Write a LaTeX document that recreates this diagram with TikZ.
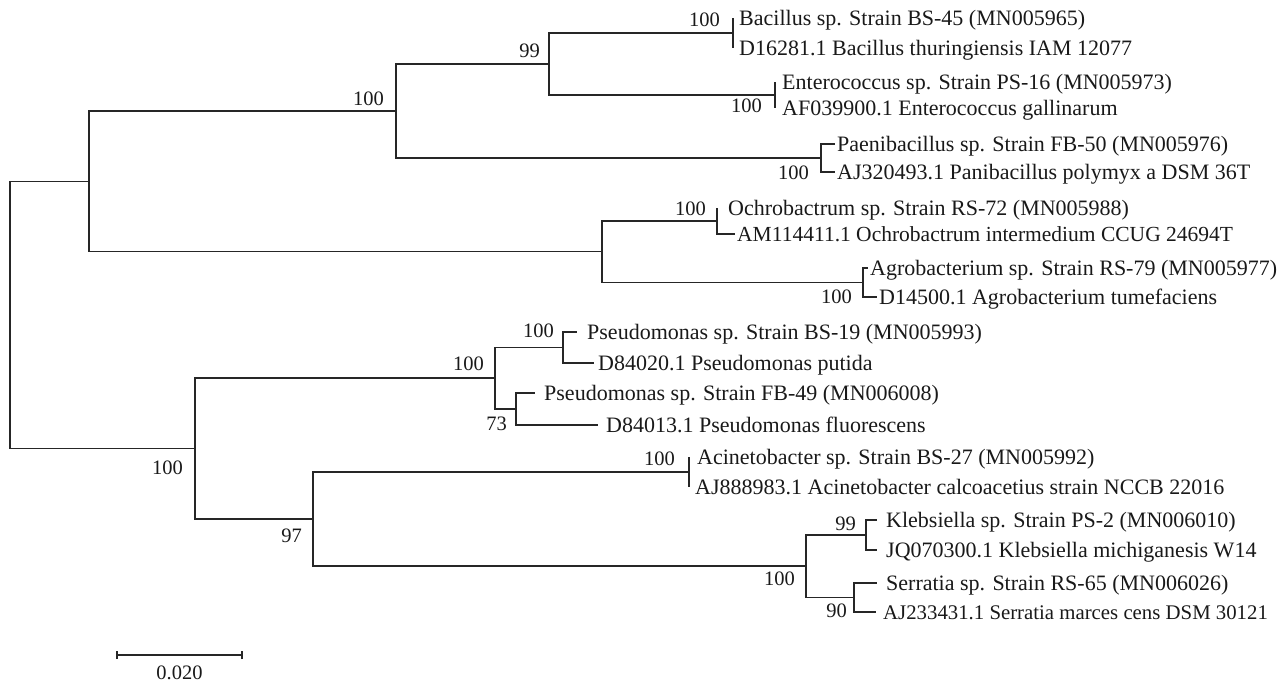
\documentclass[tikz,border=0pt]{standalone}
\usepackage{fontspec}
\setmainfont{Liberation Serif}
\begin{document}
\begin{tikzpicture}[x=1pt,y=-1pt,
  branch/.style={draw=black!85,line width=1.15pt},
  leaf/.style={anchor=base west,inner sep=0pt,text=black!90,font=\fontsize{22}{24}\selectfont},
  boot/.style={anchor=base east,inner sep=0pt,text=black!90,font=\fontsize{20.5}{24}\selectfont}]
\useasboundingbox (0,0) rectangle (1278,682);
% internal nodes
\coordinate (root) at (10,314.95);
\coordinate (A) at (89,181.4);
\coordinate (B) at (396,111);
\coordinate (C) at (549,64);
\coordinate (Bac) at (733,33);
\coordinate (Ent) at (775,95);
\coordinate (P) at (821,158);
\coordinate (D) at (602,251.75);
\coordinate (O) at (717,221);
\coordinate (Ag) at (863,282.5);
\coordinate (E) at (195,448.5);
\coordinate (F) at (495,378);
\coordinate (G) at (563,347.5);
\coordinate (H) at (516,409);
\coordinate (I) at (313,519);
\coordinate (Ac) at (689,472);
\coordinate (J) at (806,566);
\coordinate (K) at (866,535);
\coordinate (L) at (854,597.5);
% leaf ends
\coordinate (l1) at (733,18);
\coordinate (l2) at (733,48);
\coordinate (l3) at (775,82);
\coordinate (l4) at (775,108);
\coordinate (l5) at (835,144);
\coordinate (l6) at (835,172);
\coordinate (l7) at (717,208);
\coordinate (l8) at (735,234);
\coordinate (l9) at (868,268);
\coordinate (l10) at (877,297);
\coordinate (l11) at (577,332);
\coordinate (l12) at (594,363);
\coordinate (l13) at (535,393);
\coordinate (l14) at (598,425);
\coordinate (l15) at (689,457);
\coordinate (l16) at (689,487);
\coordinate (l17) at (877,520);
\coordinate (l18) at (877,550);
\coordinate (l19) at (877,583);
\coordinate (l20) at (876,612);
% branches
\draw[branch] (root) |- (A);
\draw[branch] (root) |- (E);
\draw[branch] (A) |- (B);
\draw[branch] (A) |- (D);
\draw[branch] (B) |- (C);
\draw[branch] (B) |- (P);
\draw[branch] (C) |- (Bac);
\draw[branch] (C) |- (Ent);
\draw[branch] (Bac) |- (l1);
\draw[branch] (Bac) |- (l2);
\draw[branch] (Ent) |- (l3);
\draw[branch] (Ent) |- (l4);
\draw[branch] (P) |- (l5);
\draw[branch] (P) |- (l6);
\draw[branch] (D) |- (O);
\draw[branch] (D) |- (Ag);
\draw[branch] (O) |- (l7);
\draw[branch] (O) |- (l8);
\draw[branch] (Ag) |- (l9);
\draw[branch] (Ag) |- (l10);
\draw[branch] (E) |- (F);
\draw[branch] (E) |- (I);
\draw[branch] (F) |- (G);
\draw[branch] (F) |- (H);
\draw[branch] (G) |- (l11);
\draw[branch] (G) |- (l12);
\draw[branch] (H) |- (l13);
\draw[branch] (H) |- (l14);
\draw[branch] (I) |- (Ac);
\draw[branch] (I) |- (J);
\draw[branch] (Ac) |- (l15);
\draw[branch] (Ac) |- (l16);
\draw[branch] (J) |- (K);
\draw[branch] (J) |- (L);
\draw[branch] (K) |- (l17);
\draw[branch] (K) |- (l18);
\draw[branch] (L) |- (l19);
\draw[branch] (L) |- (l20);
% leaf labels
\node[leaf] (t1) at (739,25.5) {Bacillus sp. Strain BS-45 (MN005965)};
\node[leaf] (t2) at (739,55.5) {D16281.1 Bacillus thuringiensis IAM 12077};
\node[leaf] (t3) at (782,89.5) {Enterococcus sp. Strain PS-16 (MN005973)};
\node[leaf] (t4) at (782,115.5) {AF039900.1 Enterococcus gallinarum};
\node[leaf] (t5) at (837,151.5) {Paenibacillus sp. Strain FB-50 (MN005976)};
\node[leaf] (t6) at (837,179.5) {AJ320493.1 Panibacillus polymyx a DSM 36T};
\node[leaf] (t7) at (728,215.5) {Ochrobactrum sp. Strain RS-72 (MN005988)};
\node[leaf,font=\fontsize{21.5}{24}\selectfont] (t8) at (737,241.5) {AM114411.1 Ochrobactrum intermedium CCUG 24694T};
\node[leaf] (t9) at (870,275.5) {Agrobacterium sp. Strain RS-79 (MN005977)};
\node[leaf] (t10) at (879,304.5) {D14500.1 Agrobacterium tumefaciens};
\node[leaf] (t11) at (587,339.5) {Pseudomonas sp. Strain BS-19 (MN005993)};
\node[leaf] (t12) at (598,370.5) {D84020.1 Pseudomonas putida};
\node[leaf] (t13) at (544,400.5) {Pseudomonas sp. Strain FB-49 (MN006008)};
\node[leaf] (t14) at (606,432.5) {D84013.1 Pseudomonas fluorescens};
\node[leaf] (t15) at (697,464.5) {Acinetobacter sp. Strain BS-27 (MN005992)};
\node[leaf] (t16) at (695,494.5) {AJ888983.1 Acinetobacter calcoacetius strain NCCB 22016};
\node[leaf] (t17) at (886,527.5) {Klebsiella sp. Strain PS-2 (MN006010)};
\node[leaf] (t18) at (886,557.5) {JQ070300.1 Klebsiella michiganesis W14};
\node[leaf] (t19) at (886,590.5) {Serratia sp. Strain RS-65 (MN006026)};
\node[leaf,font=\fontsize{20.8}{24}\selectfont] (t20) at (883,619.5) {AJ233431.1 Serratia marces cens DSM 30121};
% bootstrap values
\node[boot] (bB) at (384,106) {100};
\node[boot] (bC) at (540,58) {99};
\node[boot] (bBac) at (720,27) {100};
\node[boot] (bEnt) at (762,113) {100};
\node[boot] (bP) at (809,179) {100};
\node[boot] (bO) at (706,215) {100};
\node[boot] (bAg) at (852,303) {100};
\node[boot] (bG) at (554,337) {100};
\node[boot] (bF) at (484,370) {100};
\node[boot] (bH) at (507,430) {73};
\node[boot] (bE) at (183,474) {100};
\node[boot] (bI) at (302,542) {97};
\node[boot] (bAc) at (675,465) {100};
\node[boot] (bJ) at (795,585) {100};
\node[boot] (bK) at (856,530) {99};
\node[boot] (bL) at (847,617) {90};
% scale bar
\coordinate (s1) at (117,655);
\coordinate (s2) at (242,655);
\draw[branch] (s1) -- (s2);
\draw[branch] ([yshift=-4pt]s1) -- ([yshift=4pt]s1);
\draw[branch] ([yshift=-4pt]s2) -- ([yshift=4pt]s2);
\node[anchor=base,inner sep=0pt,text=black!90,font=\fontsize{20.5}{24}\selectfont] (sl) at (179.5,679) {0.020};
\end{tikzpicture}
\end{document}
